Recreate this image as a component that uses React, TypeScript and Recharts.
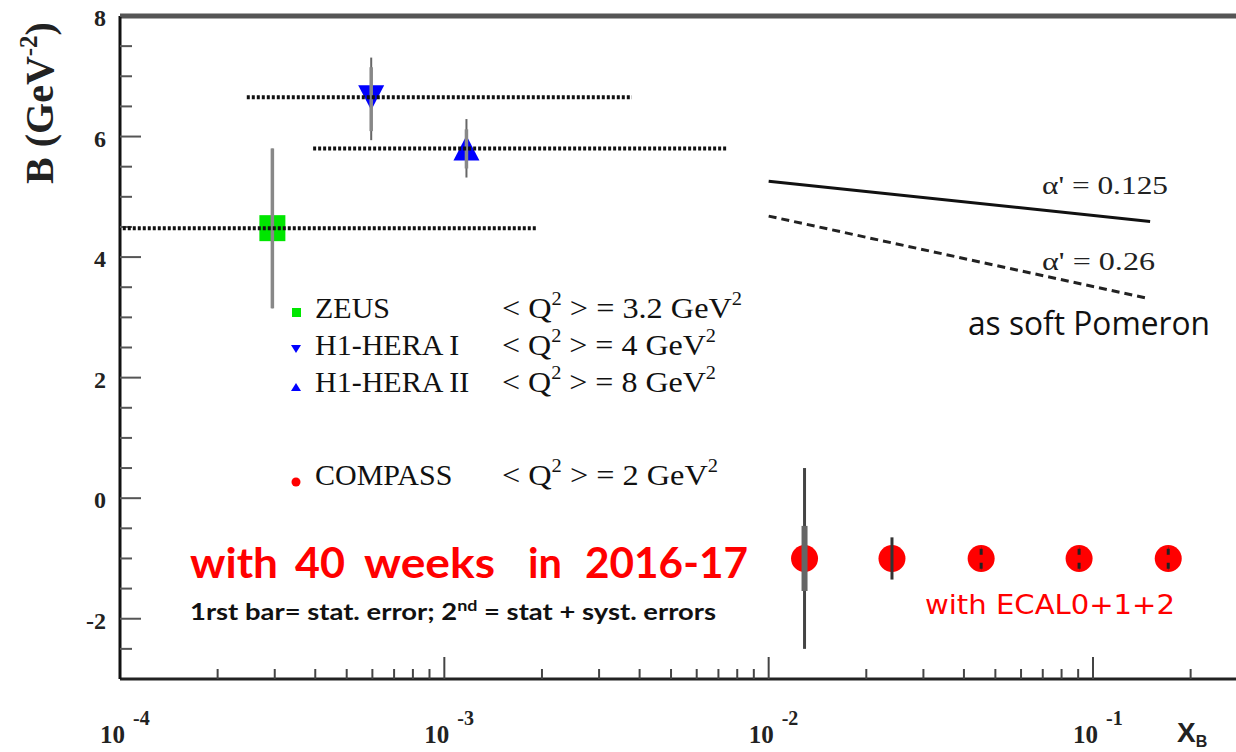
import React from "react";
import { ComposedChart, XAxis, YAxis, Scatter, Line, ErrorBar, ReferenceLine } from "recharts";

const W = 1236;
const H = 752;

// HERA measurements: x_B, slope B, stat / total error ranges, x_B bin range
const heraLabels = ["ZEUS", "H1-HERA I", "H1-HERA II"];
const heraQ2 = ["3.2", "4", "8"];
const heraX = [2.95e-4, 5.95e-4, 1.17e-3];
const heraB = [4.48, 6.65, 5.8];
const heraStatLo = [3.15, 6.09, 5.47];
const heraStatHi = [5.8, 7.15, 6.12];
const heraTotLo = [3.15, 5.94, 5.32];
const heraTotHi = [5.8, 7.31, 6.29];
const heraBinLo = [1.02e-4, 2.46e-4, 3.94e-4];
const heraBinHi = [1.93e-3, 3.79e-3, 7.49e-3];

// COMPASS projection (40 weeks)
const compassX = [0.0129, 0.024, 0.0452, 0.0906, 0.1706];
const compassB = [-1.0, -1.0, -1.0, -1.0, -1.0];
const compassStat = [0.54, 0.3, 0.14, 0.14, 0.14];
const compassTot = [1.5, 0.35, 0.17, 0.17, 0.17];

// soft Pomeron expectations
const pom125X = [0.01, 0.15];
const pom125B = [5.26, 4.59];
const pom26X = [0.01, 0.146];
const pom26B = [4.68, 3.32];

// axes
const xDomain = [1e-4, 0.276];
const yDomain = [-3, 8];
const xMajorTicks = [1e-4, 1e-3, 1e-2, 1e-1];
const xMajorLabels = ["-4", "-3", "-2", "-1"];
const xMinorTicks = [
  2e-4, 3e-4, 4e-4, 5e-4, 6e-4, 7e-4, 8e-4, 9e-4,
  2e-3, 3e-3, 4e-3, 5e-3, 6e-3, 7e-3, 8e-3, 9e-3,
  2e-2, 3e-2, 4e-2, 5e-2, 6e-2, 7e-2, 8e-2, 9e-2,
  2e-1,
];
const yTicks = [-2.5, -2, -1.5, -1, -0.5, 0, 0.5, 1, 1.5, 2, 2.5, 3, 3.5, 4, 4.5, 5, 5.5, 6, 6.5, 7, 7.5, 8];
const yMajorTicks = [-2, 0, 2, 4, 6, 8];

const serif = "'Liberation Serif', 'Times New Roman', serif";
const sans = "Lato, 'Open Sans', sans-serif";

const heraRows = heraX.map((x, i) => ({
  x,
  y: heraB[i],
  stat: [heraB[i] - heraStatLo[i], heraStatHi[i] - heraB[i]],
  tot: [heraB[i] - heraTotLo[i], heraTotHi[i] - heraB[i]],
}));
const compassRows = compassX.map((x, i) => ({ x, y: compassB[i], stat: compassStat[i], tot: compassTot[i] }));
const compassFirst = compassRows.filter((r) => r.tot > 1);
const compassSecond = compassRows.filter((r) => r.tot > 0.3 && r.tot <= 1);
const compassSmall = compassRows.filter((r) => r.tot <= 0.3);
const binRows = heraX.map((_, i) => [
  { x: heraBinLo[i], y: heraB[i] },
  { x: heraBinHi[i], y: heraB[i] },
]);
const pom125 = pom125X.map((x, i) => ({ x, y: pom125B[i] }));
const pom26 = pom26X.map((x, i) => ({ x, y: pom26B[i] }));

const XTick = (props: any) => {
  const { x, y, payload } = props;
  const k = xMajorTicks.indexOf(payload.value);
  const major = k >= 0;
  return (
    <g>
      {payload.value > 1e-4 && (
        <line x1={x} x2={x} y1={y} y2={y - (major ? 22 : 10)} stroke="#444" strokeWidth={2} />
      )}
      {major && (
        <text fontFamily={serif} fontWeight="bold" fill="#222">
          <tspan x={x + 5} y={y + 64} fontSize={25} textAnchor="end">10</tspan>
          <tspan x={x + 13} y={y + 46} fontSize={20}>{xMajorLabels[k]}</tspan>
        </text>
      )}
    </g>
  );
};

const YTick = (props: any) => {
  const { x, y, payload } = props;
  const major = yMajorTicks.includes(payload.value);
  return (
    <g>
      <line x1={x} x2={x + (major ? 21 : 12)} y1={y} y2={y} stroke="#555" strokeWidth={2} />
      {major && (
        <text x={x - 14} y={y + 10} textAnchor="end" fontFamily={serif} fontWeight="bold" fontSize={24} fill="#222">
          {payload.value}
        </text>
      )}
    </g>
  );
};

const square = (p: any) => <rect x={p.cx - 13} y={p.cy - 13} width={26} height={26} fill="#00e600" />;
const downTri = (p: any) => (
  <polygon points={`${p.cx - 13},${p.cy - 12} ${p.cx + 13},${p.cy - 12} ${p.cx},${p.cy + 13}`} fill="#0000ff" />
);
const upTri = (p: any) => (
  <polygon points={`${p.cx - 13},${p.cy + 12} ${p.cx + 13},${p.cy + 12} ${p.cx},${p.cy - 13}`} fill="#0000ff" />
);
const redDot = (p: any) => <circle cx={p.cx} cy={p.cy} r={13.5} fill="#ff0000" />;
const noShape = () => <g />;
const heraShapes = [square, downTri, upTri];

const legendY = [318, 355, 392];
const legendQ2Len = [240, 214, 214];

const Q2 = ({ v }: { v: string }) => (
  <>
    {"< Q"}
    <tspan dy={-13} fontSize={19}>2</tspan>
    <tspan dy={13}>{` > = ${v} GeV`}</tspan>
    <tspan dy={-13} fontSize={19}>2</tspan>
  </>
);

export default function App() {
  return (
    <div style={{ position: "absolute", left: 0, top: 0, width: W, height: H, background: "#fff" }}>
      {/* frame, theory lines and markers */}
      <ComposedChart width={W} height={H} margin={{ top: 16, right: 0, bottom: 43, left: 60 }}>
        <XAxis
          dataKey="x"
          type="number"
          scale="log"
          domain={xDomain}
          allowDataOverflow
          ticks={[...xMajorTicks, ...xMinorTicks]}
          interval={0}
          tick={<XTick />}
          tickLine={false}
          tickSize={0}
          tickMargin={0}
          axisLine={{ stroke: "#222", strokeWidth: 3 }}
          height={30}
        />
        <YAxis
          type="number"
          domain={yDomain}
          allowDataOverflow
          ticks={yTicks}
          interval={0}
          tick={<YTick />}
          tickLine={false}
          tickSize={0}
          tickMargin={0}
          axisLine={{ stroke: "#111", strokeWidth: 3 }}
          width={60}
        />
        <ReferenceLine y={8} stroke="#555" strokeWidth={5} />

        <Line data={pom125} dataKey="y" stroke="#111" strokeWidth={3} dot={false} activeDot={false} isAnimationActive={false} />
        <Line data={pom26} dataKey="y" stroke="#222" strokeWidth={3} strokeDasharray="8 5" dot={false} activeDot={false} isAnimationActive={false} />

        {heraRows.map((r, i) => (
          <Scatter key={`m${i}`} name={heraLabels[i]} data={[r]} dataKey="y" shape={heraShapes[i]} isAnimationActive={false} />
        ))}
        <Scatter name="COMPASS" data={compassRows} dataKey="y" shape={redDot} isAnimationActive={false} />
      </ComposedChart>

      {/* error bars and x_B bins, drawn on top of the markers */}
      <div style={{ position: "absolute", left: 0, top: 0 }}>
        <ComposedChart width={W} height={H} margin={{ top: 16, right: 0, bottom: 73, left: 120 }}>
          <XAxis dataKey="x" type="number" scale="log" domain={xDomain} allowDataOverflow hide />
          <YAxis type="number" domain={yDomain} allowDataOverflow hide />

          <Scatter data={heraRows} dataKey="y" shape={noShape} isAnimationActive={false}>
            <ErrorBar dataKey="tot" direction="y" width={0} stroke="#666" strokeWidth={2} />
            <ErrorBar dataKey="stat" direction="y" width={0} stroke="#888" strokeWidth={3.5} />
          </Scatter>
          <Scatter data={compassFirst} dataKey="y" shape={noShape} isAnimationActive={false}>
            <ErrorBar dataKey="tot" direction="y" width={0} stroke="#444" strokeWidth={3} />
            <ErrorBar dataKey="stat" direction="y" width={0} stroke="#666" strokeWidth={6} />
          </Scatter>
          <Scatter data={compassSecond} dataKey="y" shape={noShape} isAnimationActive={false}>
            <ErrorBar dataKey="tot" direction="y" width={0} stroke="#333" strokeWidth={3} />
          </Scatter>
          <Scatter data={compassSmall} dataKey="y" shape={noShape} isAnimationActive={false}>
            <ErrorBar dataKey="tot" direction="y" width={0} stroke="#222" strokeWidth={3} strokeDasharray="6 8 6" />
          </Scatter>

          {binRows.map((d, i) => (
            <Line
              key={`b${i}`}
              data={d}
              dataKey="y"
              stroke="#111"
              strokeWidth={4}
              strokeDasharray="3 2"
              dot={false}
              activeDot={false}
              isAnimationActive={false}
            />
          ))}
        </ComposedChart>
      </div>

      <svg width={W} height={H} style={{ position: "absolute", left: 0, top: 0, pointerEvents: "none" }}>
        {/* y axis title */}
        <text transform="translate(53,103) rotate(-90)" textAnchor="middle" fontFamily={serif} fontWeight="bold" fontSize={40} fill="#222">
          B (GeV<tspan dy={-16} fontSize={25}>-2</tspan>
          <tspan dy={16}>)</tspan>
        </text>

        {/* x axis title */}
        <text x={1177} y={742} fontFamily="'Liberation Sans', Arial, sans-serif" fontWeight="bold" fontSize={28} fill="#222">
          X<tspan dy={5} fontSize={16}>B</tspan>
        </text>

        {/* legend */}
        <g fontFamily={serif} fontSize={30} fill="#111">
          <rect x={292} y={308} width={9} height={9} fill="#00e600" />
          <polygon points="291,345 301,345 296,353" fill="#0000ff" />
          <polygon points="291,391 301,391 296,383" fill="#0000ff" />
          <circle cx={296} cy={482} r={4.5} fill="#ff0000" />
          {legendY.map((y, i) => (
            <React.Fragment key={i}>
              <text x={315} y={y}>{heraLabels[i]}</text>
              <text x={502} y={y} textLength={legendQ2Len[i]} lengthAdjust="spacingAndGlyphs">
                <Q2 v={heraQ2[i]} />
              </text>
            </React.Fragment>
          ))}
          <text x={315} y={485}>COMPASS</text>
          <text x={502} y={485} textLength={216} lengthAdjust="spacingAndGlyphs">
            <Q2 v="2" />
          </text>
        </g>

        {/* Pomeron labels */}
        <g fontFamily={serif} fontSize={25} fill="#222">
          <text x={1042} y={194} textLength={126} lengthAdjust="spacingAndGlyphs">α' = 0.125</text>
          <text x={1042} y={270} textLength={113} lengthAdjust="spacingAndGlyphs">α' = 0.26</text>
        </g>
        <text x={968} y={335} fontFamily="'Open Sans', sans-serif" fontSize={32} fill="#111" textLength={242} lengthAdjust="spacingAndGlyphs">
          as soft Pomeron
        </text>

        {/* projection notes */}
        <g fontFamily={sans} fontWeight="bold" fontSize={42} fill="#ff0000">
          <text x={190} y={578} textLength={88} lengthAdjust="spacingAndGlyphs">with</text>
          <text x={295} y={578} textLength={50} lengthAdjust="spacingAndGlyphs">40</text>
          <text x={364} y={578} textLength={131} lengthAdjust="spacingAndGlyphs">weeks</text>
          <text x={528} y={578} textLength={34} lengthAdjust="spacingAndGlyphs">in</text>
          <text x={585} y={578} textLength={163} lengthAdjust="spacingAndGlyphs">2016-17</text>
        </g>
        <text x={190} y={620} fontFamily={sans} fontWeight="bold" fontSize={23} fill="#111" textLength={526} lengthAdjust="spacingAndGlyphs">
          1rst bar= stat. error; 2<tspan dy={-9} fontSize={15}>nd</tspan>
          <tspan dy={9}> = stat + syst. errors</tspan>
        </text>
        <text x={925} y={614} fontFamily="'DejaVu Sans', sans-serif" fontSize={27} fill="#ff0000" textLength={250} lengthAdjust="spacingAndGlyphs">
          with ECAL0+1+2
        </text>
      </svg>
    </div>
  );
}
